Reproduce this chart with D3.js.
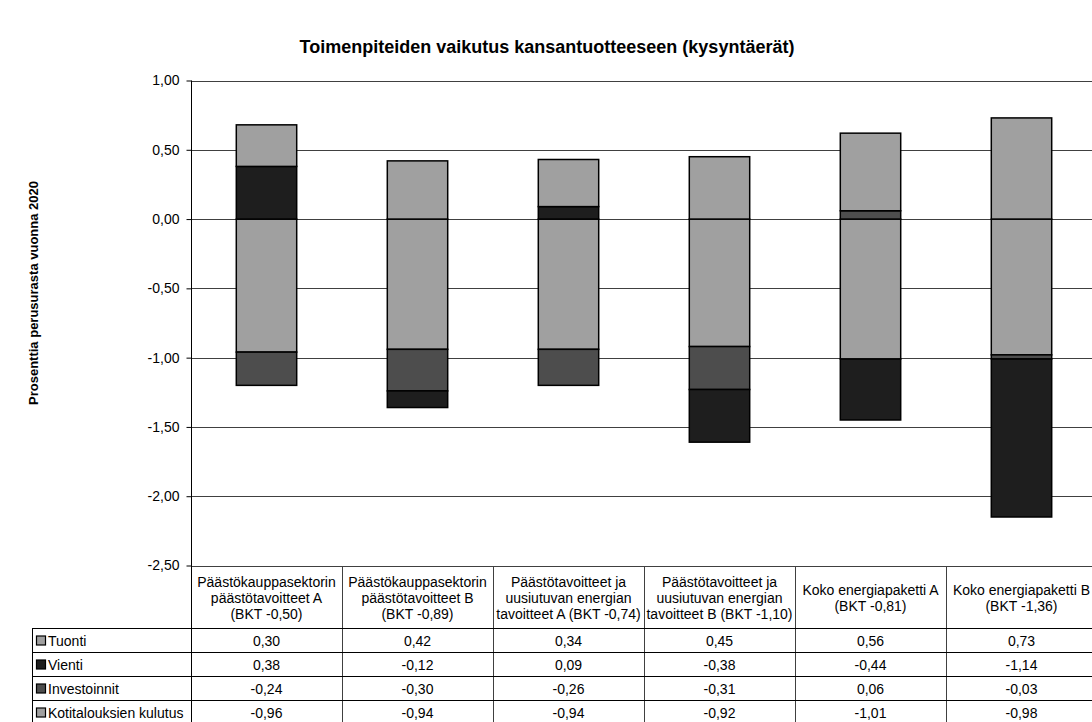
<!DOCTYPE html>
<html>
<head>
<meta charset="utf-8">
<script src="https://cdn.jsdelivr.net/npm/d3@7"></script>
<style>
  body { margin: 0; background: #fff; }
  svg { display: block; font-family: "Liberation Sans", Arial, sans-serif; }
</style>
</head>
<body>
<div id="chart"></div>
<script>
// Toimenpiteiden vaikutus kansantuotteeseen – pinottu pylväs + datataulukko

const categories = [
  ["Päästökauppasektorin", "päästötavoitteet A", "(BKT -0,50)"],
  ["Päästökauppasektorin", "päästötavoitteet B", "(BKT -0,89)"],
  ["Päästötavoitteet ja", "uusiutuvan energian", "tavoitteet A (BKT -0,74)"],
  ["Päästötavoitteet ja", "uusiutuvan energian", "tavoitteet B (BKT -1,10)"],
  ["Koko energiapaketti A", "(BKT -0,81)"],
  ["Koko energiapaketti B", "(BKT -1,36)"],
];

const seriesNames = ["Tuonti", "Vienti", "Investoinnit", "Kotitalouksien kulutus"];
const tuonti = [0.30, 0.42, 0.34, 0.45, 0.56, 0.73];
const vienti = [0.38, -0.12, 0.09, -0.38, -0.44, -1.14];
const investoinnit = [-0.24, -0.30, -0.26, -0.31, 0.06, -0.03];
const kulutus = [-0.96, -0.94, -0.94, -0.92, -1.01, -0.98];
const seriesColors = ["#a0a0a0", "#1e1e1e", "#4d4d4d", "#a0a0a0"];

const yTicks = [1, 0.5, 0, -0.5, -1, -1.5, -2, -2.5];

const W = 1092, H = 722;
const plotLeft = 191, colW = 151;
const plotTop = 80.5, plotBottom = 565.5;
const headerH = 62, rowH = 24;
const tableLeft = 32;

const fi = d3.formatLocale({ decimal: ",", thousands: " ", grouping: [3], currency: ["", "€"], minus: "-" });
const fmt = fi.format(".2f");

// taulukon rivit
const rows = seriesNames.map((name, i) => ({
  name,
  color: seriesColors[i],
  values: [tuonti, vienti, investoinnit, kulutus][i],
}));

// pinottavat tiedot: Excel pinoaa sarjat käänteisessä järjestyksessä
const data = categories.map((c, i) => ({
  key: c.join(" "),
  Tuonti: tuonti[i],
  Vienti: vienti[i],
  Investoinnit: investoinnit[i],
  "Kotitalouksien kulutus": kulutus[i],
}));
const stackKeys = seriesNames.slice().reverse();
const stacked = d3.stack()
  .keys(stackKeys)
  .offset(d3.stackOffsetDiverging)(data);

const svg = d3.select("#chart").append("svg")
  .attr("width", W)
  .attr("height", H);

const xCol = d3.scaleBand()
  .domain(data.map((d) => d.key))
  .range([plotLeft, plotLeft + colW * categories.length])
  .padding(0);

const xBar = d3.scaleBand()
  .domain(data.map((d) => d.key))
  .range(xCol.range())
  .paddingInner(0.6)
  .paddingOuter(0.3);

const y = d3.scaleLinear()
  .domain([-2.5, 1])
  .range([plotBottom, plotTop]);

// otsikko
svg.append("text")
  .attr("x", 547)
  .attr("y", 53)
  .attr("text-anchor", "middle")
  .attr("font-size", 18)
  .attr("font-weight", "bold")
  .text("Toimenpiteiden vaikutus kansantuotteeseen (kysyntäerät)");

// y-akselin otsikko
svg.append("text")
  .attr("transform", `translate(38, 293) rotate(-90)`)
  .attr("text-anchor", "middle")
  .attr("font-size", 13)
  .attr("font-weight", "bold")
  .text("Prosenttia perusurasta vuonna 2020");

// apuviivat
svg.append("g")
  .selectAll("line")
  .data(yTicks)
  .join("line")
  .attr("x1", plotLeft)
  .attr("x2", W)
  .attr("y1", (d) => Math.round(y(d)) + 0.5)
  .attr("y2", (d) => Math.round(y(d)) + 0.5)
  .attr("stroke", "#404040")
  .attr("stroke-width", 1);

// pylväät
svg.append("g")
  .selectAll("g")
  .data(stacked)
  .join("g")
  .attr("fill", (s) => seriesColors[seriesNames.indexOf(s.key)])
  .selectAll("rect")
  .data((s) => s)
  .join("rect")
  .attr("x", (d) => xBar(d.data.key))
  .attr("width", xBar.bandwidth())
  .attr("y", (d) => y(Math.max(d[0], d[1])))
  .attr("height", (d) => Math.abs(y(d[0]) - y(d[1])))
  .attr("stroke", "#000")
  .attr("stroke-width", 1.5);

// y-akseli
const yAxis = d3.axisLeft(y)
  .tickValues(yTicks)
  .tickSize(5)
  .tickPadding(7)
  .tickFormat(fmt);

const axisG = svg.append("g")
  .attr("transform", `translate(${plotLeft + 0.5},0)`)
  .call(yAxis);
axisG.select(".domain").remove();
axisG.selectAll(".tick line").attr("stroke", "#000");
axisG.selectAll(".tick text")
  .attr("font-size", 14)
  .attr("font-family", "Liberation Sans, Arial, sans-serif")
  .attr("fill", "#000");

// datataulukko
const tableTop = Math.round(plotBottom) + 0.5;
const rowsTop = tableTop + headerH;
const tbl = svg.append("g");

// pystyviivat
tbl.selectAll(".vline")
  .data(d3.range(categories.length + 1))
  .join("line")
  .attr("class", "vline")
  .attr("x1", (i) => plotLeft + 0.5 + i * colW)
  .attr("x2", (i) => plotLeft + 0.5 + i * colW)
  .attr("y1", (i) => (i === 0 ? plotTop : tableTop))
  .attr("y2", H)
  .attr("stroke", (i) => (i === 0 ? "#000" : "#404040"))
  .attr("stroke-width", 1);

// vasen reuna
tbl.append("line")
  .attr("x1", tableLeft + 0.5)
  .attr("x2", tableLeft + 0.5)
  .attr("y1", rowsTop)
  .attr("y2", H)
  .attr("stroke", "#000");

// vaakaviivat
tbl.selectAll(".hline")
  .data(d3.range(rows.length))
  .join("line")
  .attr("class", "hline")
  .attr("x1", tableLeft)
  .attr("x2", W)
  .attr("y1", (i) => rowsTop + i * rowH)
  .attr("y2", (i) => rowsTop + i * rowH)
  .attr("stroke", "#000");

// sarakeotsikot
tbl.selectAll(".head")
  .data(categories)
  .join("text")
  .attr("class", "head")
  .attr("text-anchor", "middle")
  .attr("font-size", 14)
  .each(function (lines, i) {
    const cx = xCol(data[i].key) + xCol.bandwidth() / 2;
    const cy = tableTop + headerH / 2;
    d3.select(this).selectAll("tspan")
      .data(lines)
      .join("tspan")
      .attr("x", cx)
      .attr("y", (d, j) => cy + (j - (lines.length - 1) / 2) * 16 + 5)
      .text((d) => d);
  });

// rivit
const rowG = tbl.selectAll(".row")
  .data(rows)
  .join("g")
  .attr("class", "row")
  .attr("transform", (d, i) => `translate(0,${rowsTop + i * rowH})`);

rowG.append("rect")
  .attr("x", 36.5)
  .attr("y", rowH / 2 - 4.5)
  .attr("width", 9)
  .attr("height", 9)
  .attr("fill", (d) => d.color)
  .attr("stroke", "#000")
  .attr("stroke-width", 1.2);

rowG.append("text")
  .attr("x", 48)
  .attr("y", rowH / 2 + 5)
  .attr("font-size", 14)
  .text((d) => d.name);

rowG.selectAll(".val")
  .data((d) => d.values)
  .join("text")
  .attr("class", "val")
  .attr("x", (v, i) => xCol(data[i].key) + xCol.bandwidth() / 2)
  .attr("y", rowH / 2 + 5)
  .attr("text-anchor", "middle")
  .attr("font-size", 14)
  .text((v) => fmt(v));
</script>
</body>
</html>
